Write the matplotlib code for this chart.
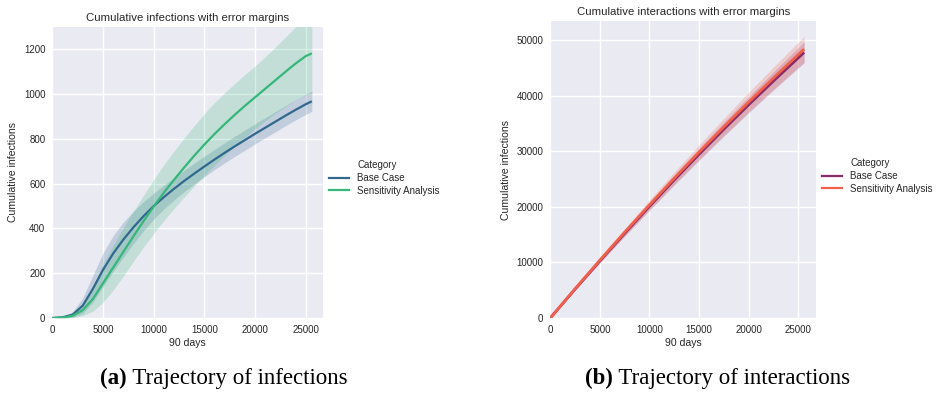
import numpy as np
import matplotlib
matplotlib.use("Agg")
import matplotlib.pyplot as plt
from matplotlib.lines import Line2D

# ---------------- data ----------------
categories = ["Base Case", "Sensitivity Analysis"]

# (a) cumulative infections
x_inf = [0, 1000, 2000, 3000, 4000, 5000, 6000, 7000, 8000, 9000, 10000,
         11000, 12000, 13000, 14000, 15000, 16000, 17000, 18000, 19000, 20000,
         21000, 22000, 23000, 24000, 25000, 25600]
base_inf = [0, 3, 15, 55, 130, 215, 288, 350, 405, 455, 500,
            540, 577, 612, 645, 677, 708, 738, 767, 795, 823,
            850, 877, 904, 930, 955, 968]
base_inf_err = [0, 3, 12, 35, 60, 75, 80, 78, 72, 65, 58,
                53, 50, 48, 47, 46, 45, 45, 45, 45, 45,
                45, 45, 45, 45, 45, 45]
sens_inf = [0, 2, 10, 35, 85, 155, 225, 295, 365, 433, 498,
            560, 617, 672, 725, 775, 822, 866, 908, 948, 986,
            1024, 1062, 1100, 1137, 1170, 1182]
sens_inf_err = [0, 2, 8, 25, 55, 85, 100, 108, 112, 116, 120,
                125, 128, 132, 135, 138, 140, 140, 140, 140, 140,
                143, 148, 155, 163, 172, 178]

# (b) cumulative interactions
x_int = [0, 2500, 5000, 7500, 10000, 12500, 15000, 17500, 20000, 22500, 25600]
base_int = [0, 5190, 10270, 15230, 20080, 24820, 29430, 33940, 38330, 42600, 47750]
base_int_err = [0, 180, 360, 540, 720, 900, 1080, 1260, 1440, 1620, 1900]
sens_int = [0, 5255, 10400, 15420, 20330, 25130, 29800, 34360, 38810, 43130, 48350]
sens_int_err = [0, 220, 440, 660, 880, 1100, 1320, 1540, 1760, 1980, 2300]

titles = ["Cumulative infections with error margins",
          "Cumulative interactions with error margins"]
xlabel = "90 days"
ylabel = "Cumulative infections"
captions = [("(a)", " Trajectory of infections"), ("(b)", " Trajectory of interactions")]

pal_a = ["#31688e", "#35b779"]
pal_b = ["#8a2a6a", "#f0604a"]

# ---------------- style ----------------
plt.rcParams["font.family"] = ["Liberation Sans", "DejaVu Sans"]
TXT = "#262626"

W, H = 936, 399
fig = plt.figure(figsize=(W / 100, H / 100), dpi=100)


def px_axes(l, t, r, b):
    return fig.add_axes([l / W, 1 - b / H, (r - l) / W, (b - t) / H])


def style_ax(ax):
    ax.set_facecolor("#eaeaf2")
    for s in ax.spines.values():
        s.set_visible(False)
    ax.grid(True, color="white", linewidth=1.0)
    ax.set_axisbelow(True)
    ax.tick_params(length=0, labelsize=7.0, colors=TXT, pad=5)


def draw(ax, x, series, errs, pal, lw):
    x = np.asarray(x, float)
    for m, e, c in zip(series, errs, pal):
        m = np.asarray(m, float)
        e = np.asarray(e, float)
        ax.fill_between(x, m - e, m + e, color=c, alpha=0.22, linewidth=0)
        ax.plot(x, m, color=c, lw=lw, solid_capstyle="butt")


def legend(x_left, y_top, pal):
    handles = [Line2D([], [], color="none")] + [Line2D([], [], color=c, lw=1.6) for c in pal]
    labels = ["Category"] + categories
    fig.legend(handles, labels, loc="upper left",
               bbox_to_anchor=(x_left / W, 1 - y_top / H),
               frameon=False, fontsize=7.0, borderpad=0, borderaxespad=0,
               handlelength=2.1, handletextpad=0.8, labelspacing=0.3,
               labelcolor=TXT)


# ---- (a) ----
ax1 = px_axes(52.3, 27, 323, 318)
style_ax(ax1)
draw(ax1, x_inf, [base_inf, sens_inf], [base_inf_err, sens_inf_err], pal_a, 1.6)
ax1.set_xlim(0, 26700)
ax1.set_ylim(0, 1300)
ax1.set_xticks(range(0, 25001, 5000))
ax1.set_yticks(range(0, 1201, 200))
ax1.set_title(titles[0], fontsize=8.2, color=TXT, pad=4)
ax1.set_xlabel(xlabel, fontsize=7.6, color=TXT, labelpad=2)
ax1.set_ylabel(ylabel, fontsize=7.6, color=TXT, labelpad=4)
legend(329, 160, pal_a)

# ---- (b) ----
ax2 = px_axes(550.3, 21, 816, 318)
style_ax(ax2)
draw(ax2, x_int, [base_int, sens_int], [base_int_err, sens_int_err], pal_b, 2.0)
ax2.set_xlim(0, 26800)
ax2.set_ylim(0, 53400)
ax2.set_xticks(range(0, 25001, 5000))
ax2.set_yticks(range(0, 50001, 10000))
ax2.set_title(titles[1], fontsize=8.2, color=TXT, pad=4)
ax2.set_xlabel(xlabel, fontsize=7.6, color=TXT, labelpad=2)
ax2.set_ylabel(ylabel, fontsize=7.6, color=TXT, labelpad=4)
legend(822, 158, pal_b)

# ---- captions ----
serif = ["Liberation Serif", "DejaVu Serif"]
for (lab, rest), xl in zip(captions, [100, 585]):
    t = fig.text(xl / W, 1 - 378 / H, lab, fontsize=16.5, fontweight="bold",
                 family=serif, va="center", ha="left", color="black")
    ax1.annotate(rest, xy=(1, 0), xycoords=t, va="bottom", ha="left", fontsize=16.5,
                 family=serif, color="black", annotation_clip=False)

fig.savefig("out.png", dpi=100)
